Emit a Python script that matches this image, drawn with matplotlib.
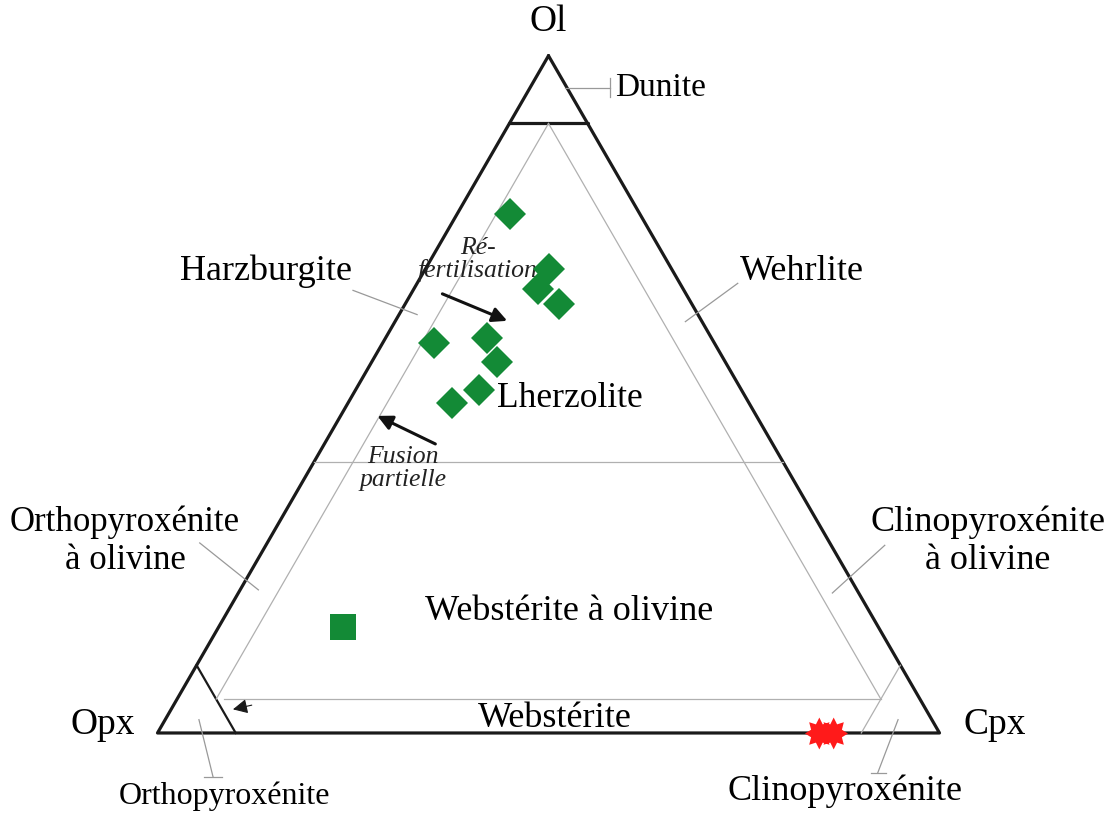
import numpy as np
import matplotlib
matplotlib.use('Agg')
import matplotlib.pyplot as plt
from matplotlib.path import Path

# compositions in % (Ol, Opx, Cpx)
lherz_ol  = [76.7, 68.5, 65.6, 63.4, 57.6, 58.3, 54.8, 50.7, 48.7]
lherz_opx = [16.6, 15.7, 18.5, 17.0, 35.8, 28.7, 29.2, 33.6, 38.0]
lherz_cpx = [6.7, 15.8, 15.9, 19.6, 6.6, 13.0, 16.0, 15.7, 13.3]

web_ol, web_opx, web_cpx = [15.7], [68.4], [15.9]
cpxite_ol, cpxite_opx, cpxite_cpx = [0.0], [14.5], [85.5]


def tern(ol, opx, cpx):
    ol = np.asarray(ol, float)
    opx = np.asarray(opx, float)
    cpx = np.asarray(cpx, float)
    s = ol + opx + cpx
    x = (cpx + ol / 2.0) / s
    y = ol / s * np.sqrt(3) / 2.0
    return x, y


def tline(ax, a, b, **kw):
    x, y = tern([a[0], b[0]], [a[1], b[1]], [a[2], b[2]])
    ax.plot(x, y, **kw)


plt.rcParams['font.family'] = ['Liberation Serif', 'DejaVu Serif']

fig = plt.figure(figsize=(11.11, 8.14), dpi=100)
ax = fig.add_axes([0, 0, 1, 1])
ax.set_xlim(-0.2014, 1.2193)
ax.set_ylim(-0.1036, 0.9373)
ax.axis('off')

black = dict(color='#1a1a1a', lw=2.3, solid_capstyle='round')
grey = dict(color='#b0b0b0', lw=0.9)
lead = dict(color='#999999', lw=0.9)

# outer triangle
x, y = tern([100, 0, 0, 100], [0, 100, 0, 0], [0, 0, 100, 0])
ax.plot(x, y, **black)
# dunite
tline(ax, (90, 10, 0), (90, 0, 10), **black)
# orthopyroxenite
tline(ax, (0, 90, 10), (10, 90, 0), color='#1a1a1a', lw=1.6)
# clinopyroxenite
tline(ax, (0, 10, 90), (10, 0, 90), **grey)
# Ol 40
tline(ax, (40, 60, 0), (40, 0, 60), **grey)
# 5% lines
tline(ax, (90, 5, 5), (5, 90, 5), **grey)
tline(ax, (90, 5, 5), (5, 5, 90), **grey)
tline(ax, (5, 89, 6), (5, 5, 90), **grey)

# small arrowhead near Opx corner
x, y = tern([4.2, 3.4], [85.5, 89.0], [10.3, 7.6])
ax.annotate('', xy=(x[1], y[1]), xytext=(x[0], y[0]),
            arrowprops=dict(arrowstyle='-|>', color='#1a1a1a', lw=0.8,
                            mutation_scale=22))

# trend arrows
x, y = tern([65.0, 60.7], [31.4, 24.6], [3.6, 14.7])
ax.annotate('', xy=(x[1], y[1]), xytext=(x[0], y[0]),
            arrowprops=dict(arrowstyle='-|>', color='#111111', lw=2.2,
                            mutation_scale=22))
x, y = tern([42.5, 47.0], [42.9, 48.7], [14.6, 4.3])
ax.annotate('', xy=(x[1], y[1]), xytext=(x[0], y[0]),
            arrowprops=dict(arrowstyle='-|>', color='#111111', lw=2.2,
                            mutation_scale=22))

# leader lines
ax.plot([0.521, 0.579], [0.825, 0.825], **lead)
ax.plot([0.579, 0.579], [0.813, 0.837], **lead)
ax.plot([0.250, 0.332], [0.566, 0.535], **lead)
ax.plot([0.742, 0.675], [0.575, 0.526], **lead)
ax.plot([0.054, 0.129], [0.243, 0.183], **lead)
ax.plot([0.930, 0.863], [0.240, 0.179], **lead)
ax.plot([0.053, 0.071], [0.017, -0.056], **lead)
ax.plot([0.060, 0.082], [-0.056, -0.056], **lead)
ax.plot([0.947, 0.921], [0.017, -0.051], **lead)
ax.plot([0.912, 0.931], [-0.051, -0.051], **lead)

# data
x, y = tern(lherz_ol, lherz_opx, lherz_cpx)
ax.plot(x, y, 'D', color='#138a36', ms=16.5, mew=0, zorder=5)
x, y = tern(web_ol, web_opx, web_cpx)
ax.plot(x, y, 's', color='#138a36', ms=18.5, mew=0, zorder=5)

# double star burst marker
verts = []
codes = []
for cx in (-0.45, 0.45):
    ang = np.linspace(0, 2 * np.pi, 17)[:-1] + np.pi / 2
    r = np.where(np.arange(16) % 2 == 0, 1.0, 0.62)
    px = cx + r * np.cos(ang) * 0.9
    py = r * np.sin(ang)
    for i in range(16):
        verts.append((px[i], py[i]))
        codes.append(Path.MOVETO if i == 0 else Path.LINETO)
    verts.append((px[0], py[0]))
    codes.append(Path.CLOSEPOLY)
burst = Path(verts, codes)
x, y = tern(cpxite_ol, cpxite_opx, cpxite_cpx)
ax.plot(x, y, marker=burst, color='#ff1a1a', ms=31, mew=0, ls='none', zorder=5)

fs = 26
ax.text(0.500, 0.909, 'Ol', fontsize=fs + 1, ha='center', va='center')
ax.text(-0.070, 0.010, 'Opx', fontsize=fs + 1, ha='center', va='center')
ax.text(1.071, 0.010, 'Cpx', fontsize=fs + 1, ha='center', va='center')
ax.text(0.585, 0.825, 'Dunite', fontsize=fs - 2, ha='left', va='center')
ax.text(0.139, 0.590, 'Harzburgite', fontsize=fs, ha='center', va='center')
ax.text(0.824, 0.590, 'Wehrlite', fontsize=fs, ha='center', va='center')
ax.text(0.527, 0.428, 'Lherzolite', fontsize=fs - 0.5, ha='center', va='center')
ax.text(-0.0416, 0.245, 'Orthopyroxénite\nà olivine', fontsize=fs - 1,
        ha='center', va='center', linespacing=1.22)
ax.text(1.062, 0.245, 'Clinopyroxénite\nà olivine', fontsize=fs,
        ha='center', va='center', linespacing=1.2)
ax.text(0.526, 0.155, 'Webstérite à olivine', fontsize=fs, ha='center', va='center')
ax.text(0.508, 0.019, 'Webstérite', fontsize=fs, ha='center', va='center')
ax.text(0.086, -0.081, 'Orthopyroxénite', fontsize=fs - 3, ha='center', va='center')
ax.text(0.879, -0.075, 'Clinopyroxénite', fontsize=fs, ha='center', va='center')
ax.text(0.410, 0.605, 'Ré-\nfertilisation', fontsize=18.5, style='italic',
        ha='center', va='center', color='#222222', linespacing=1.0)
ax.text(0.314, 0.338, 'Fusion\npartielle', fontsize=18.5, style='italic',
        ha='center', va='center', color='#222222', linespacing=1.05)

fig.savefig('out.png', dpi=100)
